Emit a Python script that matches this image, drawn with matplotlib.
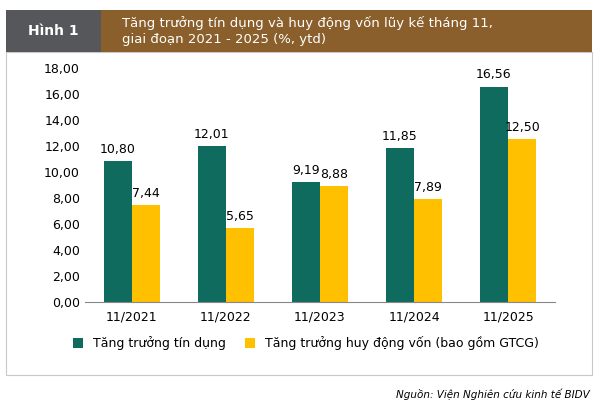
import matplotlib.pyplot as plt
import numpy as np
from matplotlib.patches import Rectangle

categories = ["11/2021", "11/2022", "11/2023", "11/2024", "11/2025"]
credit = [10.80, 12.01, 9.19, 11.85, 16.56]
deposit = [7.44, 5.65, 8.88, 7.89, 12.50]

fmt = lambda v: f"{v:.2f}".replace(".", ",")

fig = plt.figure(figsize=(6.06, 4.09), dpi=100)

# khung nen (zorder am de nam duoi axes)
fig.patches.append(Rectangle((6/606, 1 - 375/409), 586/606, 323/409, transform=fig.transFigure,
                             facecolor="white", edgecolor="#c8c8c8", lw=0.8, zorder=-5))
fig.patches.append(Rectangle((6/606, 1 - 52/409), 95/606, 42/409, transform=fig.transFigure,
                             facecolor="#55575a", edgecolor="none", zorder=-5))
fig.patches.append(Rectangle((101/606, 1 - 52/409), 491/606, 42/409, transform=fig.transFigure,
                             facecolor="#8a5f2c", edgecolor="none", zorder=-5))
fig.text(53/606, 1 - 31/409, "Hình 1", color="white", fontsize=10, fontweight="bold",
         ha="center", va="center")
fig.text(122/606, 1 - 31/409, "Tăng trưởng tín dụng và huy động vốn lũy kế tháng 11,\ngiai đoạn 2021 - 2025 (%, ytd)",
         color="white", fontsize=9.5, ha="left", va="center", linespacing=1.3)

ax = fig.add_axes([0.14, 0.262, 0.776, 0.572])
ax.patch.set_alpha(0)
x = np.arange(len(categories))
w = 0.3
ax.bar(x - w/2, credit, w, color="#0f6b5e", label="Tăng trưởng tín dụng")
ax.bar(x + w/2, deposit, w, color="#ffc000", label="Tăng trưởng huy động vốn (bao gồm GTCG)")
for i in range(len(x)):
    ax.text(x[i] - w/2, credit[i] + 0.4, fmt(credit[i]), ha="center", va="bottom", fontsize=9)
    ax.text(x[i] + w/2, deposit[i] + 0.4, fmt(deposit[i]), ha="center", va="bottom", fontsize=9)

ax.set_ylim(0, 18)
ax.set_yticks(np.arange(0, 18.1, 2))
ax.set_yticklabels([fmt(v) for v in np.arange(0, 18.1, 2)], fontsize=9)
ax.set_xticks(x)
ax.set_xticklabels(categories, fontsize=9)
ax.set_xlim(-0.5, 4.5)
for s in ["top", "right", "left"]:
    ax.spines[s].set_visible(False)
ax.spines["bottom"].set_color("#888888")
ax.tick_params(axis="y", length=0)
ax.tick_params(axis="x", length=0, pad=6)

ax.legend(loc="upper center", bbox_to_anchor=(0.47, -0.1), ncol=2, frameon=False,
          fontsize=9, handlelength=0.8, handleheight=0.8, columnspacing=1.5)

fig.text(590/606, 1 - 394/409, "Nguồn: Viện Nghiên cứu kinh tế BIDV", fontsize=7.5,
         style="italic", ha="right", va="center")

plt.savefig("out.png", dpi=100)
